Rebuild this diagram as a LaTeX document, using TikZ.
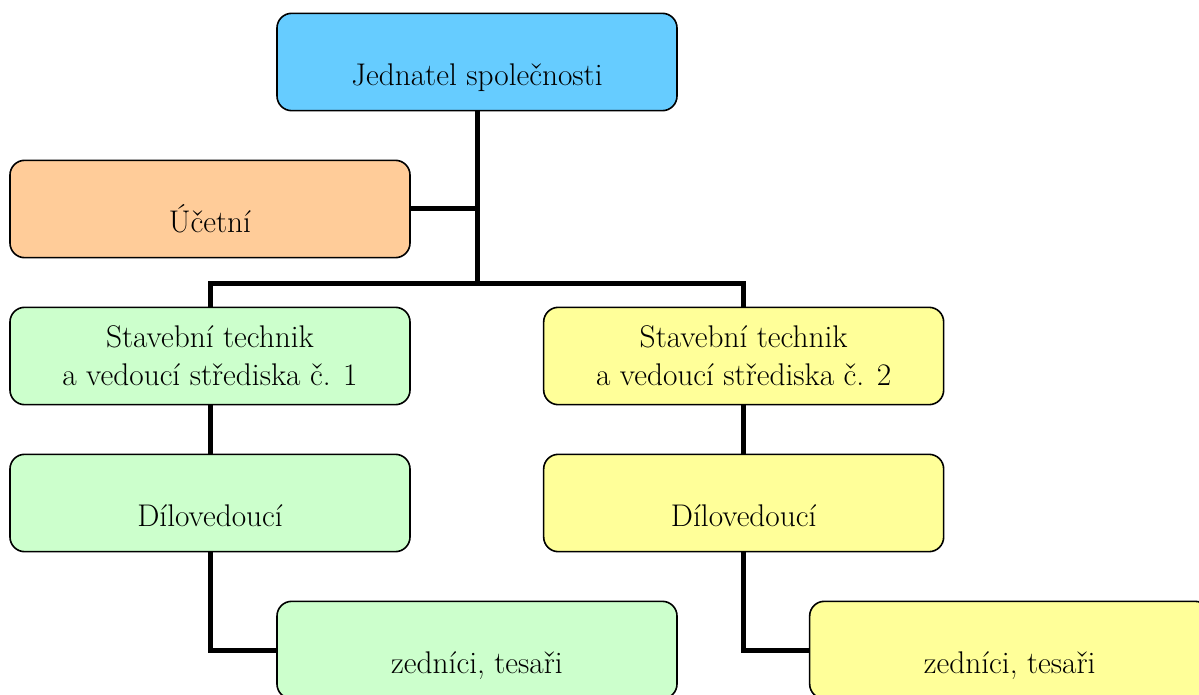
\documentclass[tikz,border=0pt]{standalone}
\usepackage{fontspec}
\usepackage{tikz}
\usetikzlibrary{positioning}
\definecolor{jednatelblue}{HTML}{66CCFF}
\definecolor{ucetniorange}{HTML}{FFCC99}
\definecolor{strediskogreen}{HTML}{CCFFCC}
\definecolor{strediskoyellow}{HTML}{FFFF99}
\tikzstyle{orgbox} = [rectangle, rounded corners=11pt, minimum width=300pt, minimum height=73pt, inner sep=0pt, text centered, align=center, draw=black, line width=1.2pt, font=\rmfamily\fontsize{23.5}{28.5}\selectfont]
\tikzstyle{lowtext} = [text height=54.1pt, text depth=18.9pt]
\tikzstyle{connect} = [line width=3.75pt]

\begin{document}
\begin{tikzpicture}[x=0.75pt, y=0.75pt, node distance=110.25pt]

			\path[use as bounding box, clip] (0,0) rectangle (1199,-695);

			\node (jednatel) [orgbox, lowtext, fill=jednatelblue] at (477,-62) {Jednatel společnosti};
			\node (ucetni) [orgbox, lowtext, fill=ucetniorange, below of=jednatel, xshift=-200.25pt] {Účetní};
			\node (technik1) [orgbox, fill=strediskogreen, below of=ucetni] {Stavební technik\\a vedoucí střediska č. 1};
			\node (technik2) [orgbox, fill=strediskoyellow, right of=technik1, xshift=290pt] {Stavební technik\\a vedoucí střediska č. 2};
			\node (dilo1) [orgbox, lowtext, fill=strediskogreen, below of=technik1] {Dílovedoucí};
			\node (dilo2) [orgbox, lowtext, fill=strediskoyellow, below of=technik2] {Dílovedoucí};
			\node (zednici1) [orgbox, lowtext, fill=strediskogreen, below of=dilo1, xshift=200.25pt] {zedníci, tesaři};
			\node (zednici2) [orgbox, lowtext, fill=strediskoyellow, below of=dilo2, xshift=199.5pt] {zedníci, tesaři};

			\coordinate (split) at (477,-284);

			\draw[connect] (jednatel.south) -- (split);
			\draw[connect] (ucetni.east) -- (ucetni.east -| split);
			\draw[connect] (technik1.north) |- (split) -| (technik2.north);
			\draw[connect] (technik1.south) -- (dilo1.north);
			\draw[connect] (technik2.south) -- (dilo2.north);
			\draw[connect] (dilo1.south) |- (zednici1.west);
			\draw[connect] (dilo2.south) |- (zednici2.west);

\end{tikzpicture}
\end{document}
